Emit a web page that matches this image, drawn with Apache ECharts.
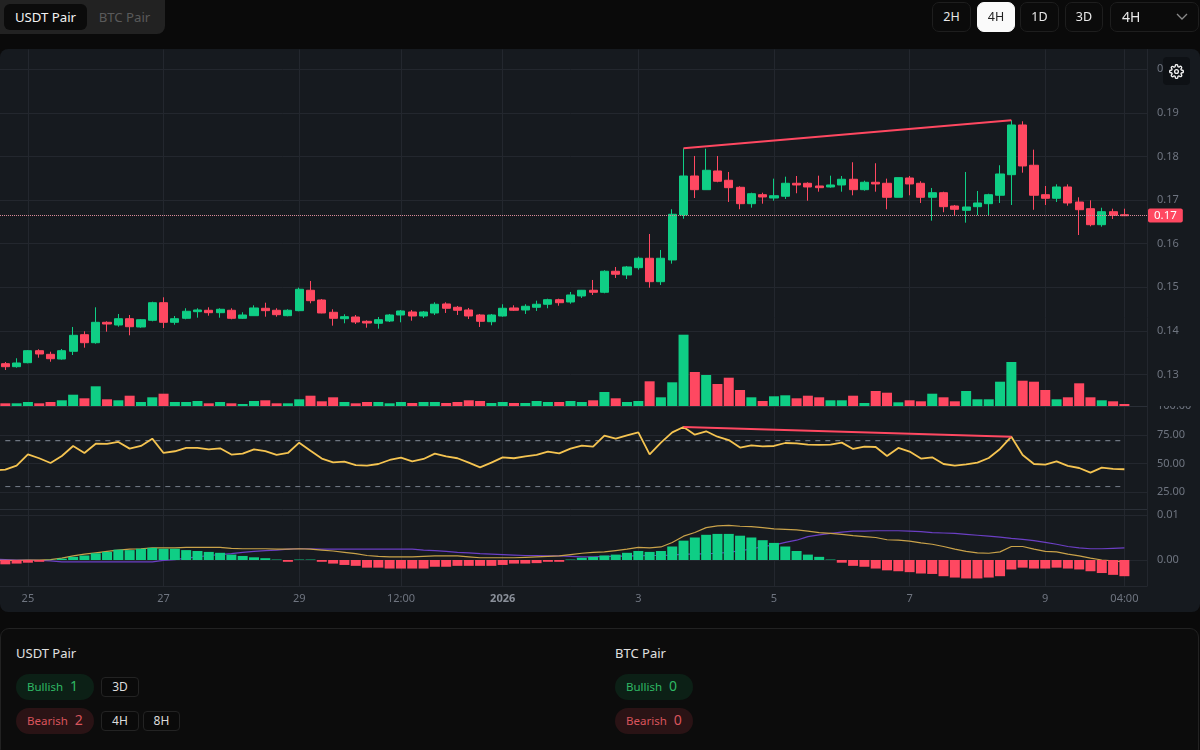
<!DOCTYPE html>
<html>
<head>
<meta charset="utf-8">
<script src="https://cdn.jsdelivr.net/npm/echarts@6/dist/echarts.min.js"></script>
<style>
  html, body { margin: 0; padding: 0; width: 1200px; height: 750px; overflow: hidden; background: #0a0a0a; font-family: "Noto Sans", sans-serif; }
  .abs { position: absolute; box-sizing: border-box; }
  #panel { left: 0; top: 49px; width: 1200px; height: 563px; background: #161a1f; border-radius: 8px; }
  /* the canvas starts 6px off screen so candle 0 can sit at x=5 with its slot before it */
  #chart { left: -6px; top: 0; width: 1206px; height: 750px; }
  .tabs { left: 0; top: 0; width: 165px; height: 34px; background: #222222; border-radius: 0 0 8px 0; }
  .tab { height: 26px; line-height: 26px; text-align: center; font-size: 13.2px; border-radius: 6px; }
  .tf { top: 2px; height: 30px; line-height: 28px; text-align: center; font-size: 12.5px; color: #e8e8e8; background: #0b0b0b; border: 1px solid #1e1e1e; border-radius: 7px; }
  .tf.on { background: #fafafa; color: #222; border-color: #fafafa; }
  #gear { left: 1163px; top: 57px; width: 27px; height: 28px; background: #0e1115; border-radius: 4px; display: flex; align-items: center; justify-content: center; }
  #foot { left: 0; top: 628px; width: 1199px; height: 130px; background: #0c0c0c; border: 1px solid #222; border-radius: 9px; }
  .title { font-size: 13px; color: #e0e0e0; line-height: 18px; }
  .pill { width: 78px; height: 26px; border-radius: 13px; font-size: 11.5px; line-height: 24px; padding-left: 11px; }
  .pill b { font-weight: 400; font-size: 14px; margin-left: 7px; }
  .bull { background: #0c2016; color: #2fb864; }
  .bear { background: #2a1315; color: #d9545c; }
  .chip { height: 20px; line-height: 18px; text-align: center; font-size: 12px; color: #dcdcdc; background: #0a0a0a; border: 1px solid #232323; border-radius: 4px; }
</style>
</head>
<body>
<div id="panel" class="abs"></div>
<div id="chart" class="abs"></div>

<div class="abs tabs"></div>
<div class="abs tab" style="left:4px;top:4px;width:83px;background:#0b0b0b;color:#f2f2f2">USDT Pair</div>
<div class="abs tab" style="left:87px;top:4px;width:75px;color:#5a5a5a">BTC Pair</div>

<div class="abs tf" style="left:932px;width:39px">2H</div>
<div class="abs tf on" style="left:977px;width:38px">4H</div>
<div class="abs tf" style="left:1020px;width:39px">1D</div>
<div class="abs tf" style="left:1065px;width:38px">3D</div>
<div class="abs tf" style="left:1110px;width:89px;text-align:left;padding-left:11px;font-size:14px">4H
  <svg style="position:absolute;left:65px;top:10px" width="12" height="8" viewBox="0 0 12 8"><path d="M1 1l5 5 5-5" fill="none" stroke="#8a8a8a" stroke-width="1.3"/></svg>
</div>

<div id="gear" class="abs">
  <svg width="15" height="15" viewBox="0 0 24 24" fill="none" stroke="#f0f0f0" stroke-width="2.2" stroke-linecap="round" stroke-linejoin="round">
    <circle cx="12" cy="12" r="3"/>
    <path d="M19.4 15a1.65 1.65 0 0 0 .33 1.82l.06.06a2 2 0 1 1-2.83 2.83l-.06-.06a1.65 1.65 0 0 0-2.82 1.17V21a2 2 0 1 1-4 0v-.09A1.65 1.65 0 0 0 7.2 19.7l-.06.06a2 2 0 1 1-2.83-2.83l.06-.06A1.65 1.65 0 0 0 3.2 14H3a2 2 0 1 1 0-4h.09A1.65 1.65 0 0 0 4.3 7.2l-.06-.06a2 2 0 1 1 2.83-2.83l.06.06A1.65 1.65 0 0 0 10 3.2V3a2 2 0 1 1 4 0v.09a1.65 1.65 0 0 0 2.8 1.17l.06-.06a2 2 0 1 1 2.83 2.83l-.06.06A1.65 1.65 0 0 0 20.8 10H21a2 2 0 1 1 0 4h-.09a1.65 1.65 0 0 0-1.51 1z"/>
  </svg>
</div>

<div id="foot" class="abs"></div>
<div class="abs title" style="left:16px;top:644px">USDT Pair</div>
<div class="abs pill bull" style="left:16px;top:674px">Bullish<b>1</b></div>
<div class="abs pill bear" style="left:16px;top:708px">Bearish<b>2</b></div>
<div class="abs chip" style="left:101px;top:677px;width:38px">3D</div>
<div class="abs chip" style="left:101px;top:711px;width:38px">4H</div>
<div class="abs chip" style="left:143px;top:711px;width:37px">8H</div>
<div class="abs title" style="left:615px;top:644px">BTC Pair</div>
<div class="abs pill bull" style="left:615px;top:674px">Bullish<b>0</b></div>
<div class="abs pill bear" style="left:615px;top:708px">Bearish<b>0</b></div>

<script>
// price data, 4h candles
var openPrices = [
  .13248,.13179,.13271,.13546,.13463,.13355,.13532,.13913,.13729,.14197,
  .14135,.14280,.14090,.14243,.14647,.14197,.14289,.14441,.14473,.14418,
  .14473,.14289,.14349,.14519,.14473,.14349,.14464,.14932,.14709,.14427,
  .14280,.14319,.14220,.14175,.14227,.14365,.14434,.14342,.14411,.14618,
  .14542,.14480,.14365,.14211,.14342,.14526,.14480,.14542,.14611,.14716,
  .14663,.14801,.14932,.14886,.15368,.15283,.15450,.15666,.15129,.15627,
  .16659,.17553,.17239,.17668,.17455,.17294,.16918,.17124,.17048,.17088,
  .17386,.17386,.17324,.17301,.17347,.17478,.17239,.17409,.17386,.17065,
  .17507,.17386,.17065,.17170,.16865,.16766,.16849,.16918,.17111,.17583,
  .18723,.17799,.17124,.17042,.17301,.16956,.16803,.16436,.16734,.16665
];
var closePrices = [
  .13179,.13264,.13546,.13470,.13362,.13546,.13899,.13729,.14197,.14158,
  .14280,.14096,.14257,.14647,.14197,.14280,.14450,.14480,.14418,.14496,
  .14289,.14365,.14526,.14464,.14372,.14473,.14955,.14693,.14411,.14289,
  .14326,.14204,.14181,.14257,.14365,.14457,.14342,.14434,.14611,.14519,
  .14473,.14342,.14220,.14365,.14519,.14473,.14565,.14611,.14716,.14647,
  .14824,.14932,.14886,.15368,.15299,.15466,.15666,.15129,.15666,.16675,
  .17553,.17239,.17684,.17432,.17285,.16918,.17147,.17072,.17101,.17386,
  .17347,.17301,.17285,.17347,.17478,.17239,.17409,.17370,.17065,.17515,
  .17370,.17065,.17170,.16849,.16789,.16842,.16934,.17124,.17599,.18723,
  .17783,.17111,.17042,.17301,.16934,.16780,.16436,.16734,.16651,.16642
];
var lowPrices = [
  .13103,.13156,.13257,.13385,.13293,.13339,.13447,.13615,.13706,.13982,
  .14096,.13899,.14073,.14220,.14066,.14142,.14266,.14303,.14349,.14303,
  .14266,.14273,.14342,.14326,.14326,.14335,.14450,.14633,.14404,.14120,
  .14175,.14158,.14073,.14051,.14204,.14197,.14234,.14296,.14365,.14411,
  .14365,.14273,.14090,.14129,.14326,.14457,.14388,.14457,.14519,.14578,
  .14624,.14755,.14824,.14863,.15214,.15191,.15404,.14991,.15053,.15542,
  .16574,.17048,.17239,.17409,.16957,.16790,.16826,.16918,.16986,.17026,
  .17157,.16986,.17193,.17285,.17193,.17110,.17216,.17193,.16790,.17065,
  .17110,.16934,.16528,.16721,.16651,.16482,.16651,.16651,.16934,.16888,
  .17629,.16778,.16888,.16957,.16872,.16199,.16399,.16390,.16567,.16642
];
var highPrices = [
  .13287,.13372,.13562,.13578,.13523,.13585,.14090,.13991,.14541,.14220,
  .14388,.14365,.14273,.14670,.14771,.14342,.14519,.14519,.14541,.14519,
  .14519,.14428,.14587,.14647,.14519,.14496,.14992,.15145,.14732,.14496,
  .14381,.14365,.14243,.14319,.14388,.14480,.14480,.14457,.14656,.14656,
  .14572,.14526,.14388,.14388,.14611,.14587,.14611,.14693,.14739,.14739,
  .14893,.14939,.15168,.15391,.15466,.15489,.15703,.16223,.15856,.16790,
  .18188,.18012,.18179,.18012,.17645,.17317,.17170,.17170,.17492,.17537,
  .17553,.17409,.17560,.17560,.17553,.17868,.17445,.17845,.17492,.17515,
  .17553,.17432,.17278,.17193,.16888,.17645,.17209,.17147,.17799,.18831,
  .18808,.18157,.17324,.17362,.17362,.17064,.16995,.16825,.16803,.16803
];
var volumes = [
  2.7,2.7,4,2.7,4,5.7,11.3,7.7,19.7,6.7,
  5.7,10.3,4,8.7,12.3,4,4,5,2.7,4,
  2.7,2,5,5.7,2.7,2.7,6.7,10.3,4.7,8.7,
  4,2.7,4,4,2.7,4,3,4,4,3,
  4,5.7,5,3,4,3,3,5,4,4,
  5,4,5.7,14,7.7,4,5,24.7,8.7,23.7,
  71.3,34,31,22,28.3,16,8.7,5,9.7,10.7,
  7.7,10.3,8.7,5.7,5.7,10.3,3,15,13.3,3.7,
  5.7,4.7,12.3,8.7,4.7,15,6.7,6.7,24.3,44,
  25.3,24.3,16,6.7,8.7,22.7,8.7,5.7,4.7,2
];
var rsiValues = [
  44.8,48.3,58.1,54.7,50.6,56.7,65.4,59.3,67.4,67.2,
  68.9,63.1,65.4,71.8,59.3,60.8,63.7,63.7,62.5,63.4,
  57.9,58.7,62.5,61,57.6,59.3,68.3,61.3,54.4,51.2,
  51.8,48.8,48.3,49.7,53.2,55.2,52,54.1,58.7,56.4,
  54.7,50.9,46.8,50.9,55.5,54.7,56.4,57.6,60.5,59,
  63.1,65.7,64.8,74.4,71.8,74.7,77.3,58.1,68.3,77.3,
  82,75.3,78.2,73.5,70.6,64,66,65.1,65.4,68,
  67.7,66.6,66.3,66.6,68.3,62.8,64.8,64.5,56.7,63.7,
  60.5,54.4,55.5,49.7,48.3,49.4,50.9,54.9,62.8,73.5,
  57.6,49.7,49.1,52,48,46.2,42.2,46.5,45.4,45.1
];
var macdHist = [
  -.00096,-.0008,-.0006,-.0004,.00005,.0003,.0007,.001,.0015,.0018,
  .0023,.0022,.0025,.0027,.0025,.0025,.0022,.002,.0018,.0016,
  .0012,.0009,.0006,.0004,.0001,-.0004,.0001,.0001,-.0004,-.0008,
  -.0011,-.0013,-.0017,-.0017,-.0019,-.0019,-.0019,-.0019,-.0015,-.0015,
  -.0013,-.0013,-.0013,-.0013,-.0011,-.0008,-.0008,-.0007,-.0004,-.0004,
  .0001,.0005,.0007,.001,.0012,.0016,.002,.0018,.002,.003,
  .0043,.005,.0056,.0058,.0058,.0054,.005,.0044,.0038,.003,
  .002,.0012,.0007,.0001,-.0006,-.0013,-.0015,-.0019,-.0023,-.0025,
  -.0027,-.003,-.0031,-.0036,-.0039,-.0041,-.0041,-.0039,-.0036,-.0021,
  -.0017,-.0019,-.0019,-.0017,-.0019,-.0021,-.0025,-.0029,-.0033,-.0036
];
var macdLine = [
  -.0001,-.0001,0,0,.0001,.0004,.0009,.0013,.0016,.0019,
  .0022,.0024,.0025,.0027,.0027,.0027,.0028,.0028,.0028,.0028,
  .0026,.0025,.0025,.0025,.0024,.0024,.0025,.0024,.0022,.002,
  .0017,.0014,.001,.0008,.0007,.0007,.0007,.0008,.0009,.0009,
  .0009,.0007,.0005,.0005,.0005,.0005,.0006,.0007,.0008,.0009,
  .0012,.0015,.0017,.0018,.0021,.0024,.0028,.0027,.0029,.0039,
  .0053,.0061,.0072,.0076,.0077,.0075,.0074,.0072,.0069,.0068,
  .0067,.0064,.0061,.0059,.0057,.0054,.0052,.005,.0045,.0044,
  .0042,.0038,.0035,.003,.0024,.0019,.0016,.0015,.0018,.003,
  .003,.0024,.0019,.0018,.0013,.0009,.0004,0,-.0002,-.0004
];
var signalLine = [
  .0001,0,0,-.0001,-.0002,-.0004,-.0004,-.0004,-.0004,-.0004,
  -.0004,-.0004,-.0004,-.0004,-.0001,.0001,.0004,.0007,.001,.0012,
  .0014,.0017,.0019,.0021,.0022,.0024,.0025,.0025,.0024,.0024,
  .0024,.0024,.0024,.0024,.0024,.0024,.0024,.0022,.0021,.0019,
  .0017,.0016,.0014,.0013,.0012,.0011,.001,.001,.0009,.0009,
  .0008,.0007,.0007,.0008,.0008,.0009,.0009,.001,.001,.0011,
  .0013,.0013,.0014,.0015,.0017,.0021,.0024,.003,.0033,.0039,
  .0044,.0052,.0056,.0059,.0062,.0064,.0064,.0065,.0065,.0065,
  .0064,.0063,.0061,.006,.0059,.0057,.0055,.0053,.0051,.0048,
  .0046,.0043,.0039,.0035,.003,.0027,.0025,.0025,.0026,.0027
];
// values of the candle just off the left edge, the lines run in from there
var rsiLead = 44.2, macdLead = -.0001, signalLead = .0002;
// candle index of each time label
var tickIndex = [2, 14, 26, 35, 44, 56, 68, 80, 92, 99];
var tickLabels = ['25', '27', '29', '12:00', '2026', '3', '5', '7', '9', '04:00'];
var lastPrice = 0.16645;
var priceDivergence = [[60, 0.18188], [89, 0.18831]];
var rsiDivergence = [[60, 82], [89, 73.5]];
var rsiBands = [70, 30];

var GREEN = '#0fce85', RED = '#ff4861';
var GRID_COLOR = '#23272e', TEXT_COLOR = '#6f7580';
var PLOT_LEFT = 0, PLOT_WIDTH = 1153;

// one blank slot before the first candle, two after the last, so the axis ends at the price scale
var categories = [''];
for (var c = 0; c < openPrices.length; c++) categories.push('c' + c);
categories.push('', '');
function pad(arr, lead) { return [lead === undefined ? '-' : lead].concat(arr, ['-', '-']); }

var candles = [['-', '-', '-', '-']];
for (var i = 0; i < openPrices.length; i++) candles.push([openPrices[i], closePrices[i], lowPrices[i], highPrices[i]]);
candles.push(['-', '-', '-', '-'], ['-', '-', '-', '-']);

var volumeBars = pad(volumes.map(function (v, i) {
  return { value: v, itemStyle: { color: closePrices[i] >= openPrices[i] ? GREEN : RED } };
}));
var histBars = pad(macdHist.map(function (v) {
  return { value: v, itemStyle: { color: v >= 0 ? GREEN : RED } };
}));
function shift(points) { return points.map(function (p) { return [p[0] + 1, p[1]]; }); }
var tickSlots = tickIndex.map(function (t) { return t + 1; });

function plotGrid(top, height) { return { left: PLOT_LEFT, width: PLOT_WIDTH, top: top, height: height }; }
function hiddenX(grid) {
  return { type: 'category', gridIndex: grid, data: categories, boundaryGap: false, show: false };
}
function priceAxis(grid, min, max, interval, digits, hide) {
  return {
    type: 'value', gridIndex: grid, position: 'right', min: min, max: max, interval: interval,
    axisLine: { show: false }, axisTick: { show: false },
    axisLabel: {
      margin: 10, color: TEXT_COLOR, fontSize: 11, fontFamily: 'Noto Sans', padding: [3, 0, 0, 0],
      formatter: function (v) { return hide.indexOf(+v.toFixed(2)) >= 0 ? '' : v.toFixed(digits); }
    },
    splitLine: { lineStyle: { color: GRID_COLOR, width: 1 }, showMinLine: hide.indexOf(min) < 0, showMaxLine: hide.indexOf(max) < 0 }
  };
}
function flatLine(name, x, y, points, color, width, extra) {
  return Object.assign({
    name: name, type: 'line', xAxisIndex: x, yAxisIndex: y, data: points, symbol: 'none',
    showSymbol: false, lineStyle: { color: color, width: width }, silent: true
  }, extra || {});
}

var chart = echarts.init(document.getElementById('chart'), null, { renderer: 'canvas' });
chart.setOption({
  animation: false,
  backgroundColor: 'transparent',
  grid: [
    plotGrid(25.7, 392.4),   // price
    plotGrid(306, 100),      // volume
    plotGrid(406.3, 114.7),  // rsi
    plotGrid(515, 90),       // macd
    plotGrid(49.5, 536.5)    // time labels and the vertical lines of all panes
  ],
  xAxis: [
    hiddenX(0),
    {
      type: 'category', gridIndex: 1, data: categories, boundaryGap: false,
      axisLabel: { show: false }, axisTick: { show: false },
      axisLine: { lineStyle: { color: '#2a2f37', width: 1 } }
    },
    hiddenX(2),
    hiddenX(3),
    {
      type: 'category', gridIndex: 4, data: categories, boundaryGap: false,
      axisTick: { show: false },
      axisLine: { lineStyle: { color: GRID_COLOR, width: 1 } },
      splitLine: {
        show: true, lineStyle: { color: GRID_COLOR, width: 1 },
        interval: function (idx) { return tickSlots.indexOf(idx) >= 0; }
      },
      axisLabel: {
        margin: 7, fontSize: 11, fontFamily: 'Noto Sans', color: TEXT_COLOR,
        interval: function (idx) { return tickSlots.indexOf(idx) >= 0; },
        formatter: function (v, idx) {
          var t = tickLabels[tickSlots.indexOf(idx)];
          return t === '2026' ? '{y|2026}' : t;
        },
        rich: { y: { fontWeight: 'bold', fontSize: 11, color: '#8a909a', fontFamily: 'Noto Sans' } }
      }
    }
  ],
  yAxis: [
    priceAxis(0, 0.12, 0.21, 0.01, 2, [0.12, 0.21]),
    { type: 'value', gridIndex: 1, min: 0, max: 100, show: false },
    priceAxis(2, 0, 100, 25, 2, [0]),
    priceAxis(3, -0.01, 0.01, 0.01, 2, [-0.01]),
    {
      type: 'value', gridIndex: 4, position: 'right', min: 0, max: 1,
      axisLine: { show: true, lineStyle: { color: GRID_COLOR, width: 1 } },
      axisTick: { show: false }, axisLabel: { show: false }, splitLine: { show: false }
    }
  ],
  series: [
    {
      name: 'Price', type: 'candlestick', xAxisIndex: 0, yAxisIndex: 0, data: candles, barWidth: 8.6,
      itemStyle: { color: GREEN, color0: RED, borderColor: GREEN, borderColor0: RED, borderWidth: 1 },
      markLine: {
        silent: true, symbol: 'none', animation: false, precision: 5,
        lineStyle: { color: '#d98a98', type: 'dotted', width: 1 },
        label: {
          position: 'end', distance: 1, formatter: '0.17', color: '#fff', fontSize: 11.5, fontFamily: 'Noto Sans',
          backgroundColor: RED, padding: [1, 6, 1, 6], borderRadius: 2
        },
        data: [{ yAxis: lastPrice }]
      }
    },
    flatLine('Price divergence', 0, 0, shift(priceDivergence), RED, 2, { z: 6 }),
    { name: 'Volume', type: 'bar', xAxisIndex: 1, yAxisIndex: 1, data: volumeBars, barWidth: 10 },
    flatLine('RSI 70', 2, 2, [[1, rsiBands[0]], [100, rsiBands[0]]], '#8b93a0', 1, { lineStyle: { color: '#868e9b', width: 1, type: [5, 5] } }),
    flatLine('RSI 30', 2, 2, [[1, rsiBands[1]], [100, rsiBands[1]]], '#8b93a0', 1, { lineStyle: { color: '#767d89', width: 1, type: [5, 5] } }),
    flatLine('RSI', 2, 2, pad(rsiValues, rsiLead), '#f5c451', 1.8, { z: 4 }),
    flatLine('RSI divergence', 2, 2, shift(rsiDivergence), RED, 2, { z: 6 }),
    flatLine('Signal', 3, 3, pad(signalLine, signalLead), '#6b3fc4', 1.2, { z: 2 }),
    flatLine('MACD', 3, 3, pad(macdLine, macdLead), '#c9a24a', 1.2, { z: 2 }),
    { name: 'Histogram', type: 'bar', xAxisIndex: 3, yAxisIndex: 3, data: histBars, barWidth: 10, z: 3 }
  ],
  graphic: [
    // clips the top of the rsi scale the way the price pane does
    { type: 'rect', z: 100, shape: { x: 1154, y: 395, width: 52, height: 11 }, style: { fill: '#161a1f' } },
    // pane border between rsi and macd
    { type: 'line', z: 1, shape: { x1: 0, y1: 509.5, x2: 1153, y2: 509.5 }, style: { stroke: '#2a2f37', lineWidth: 1 } }
  ]
});
</script>
</body>
</html>
